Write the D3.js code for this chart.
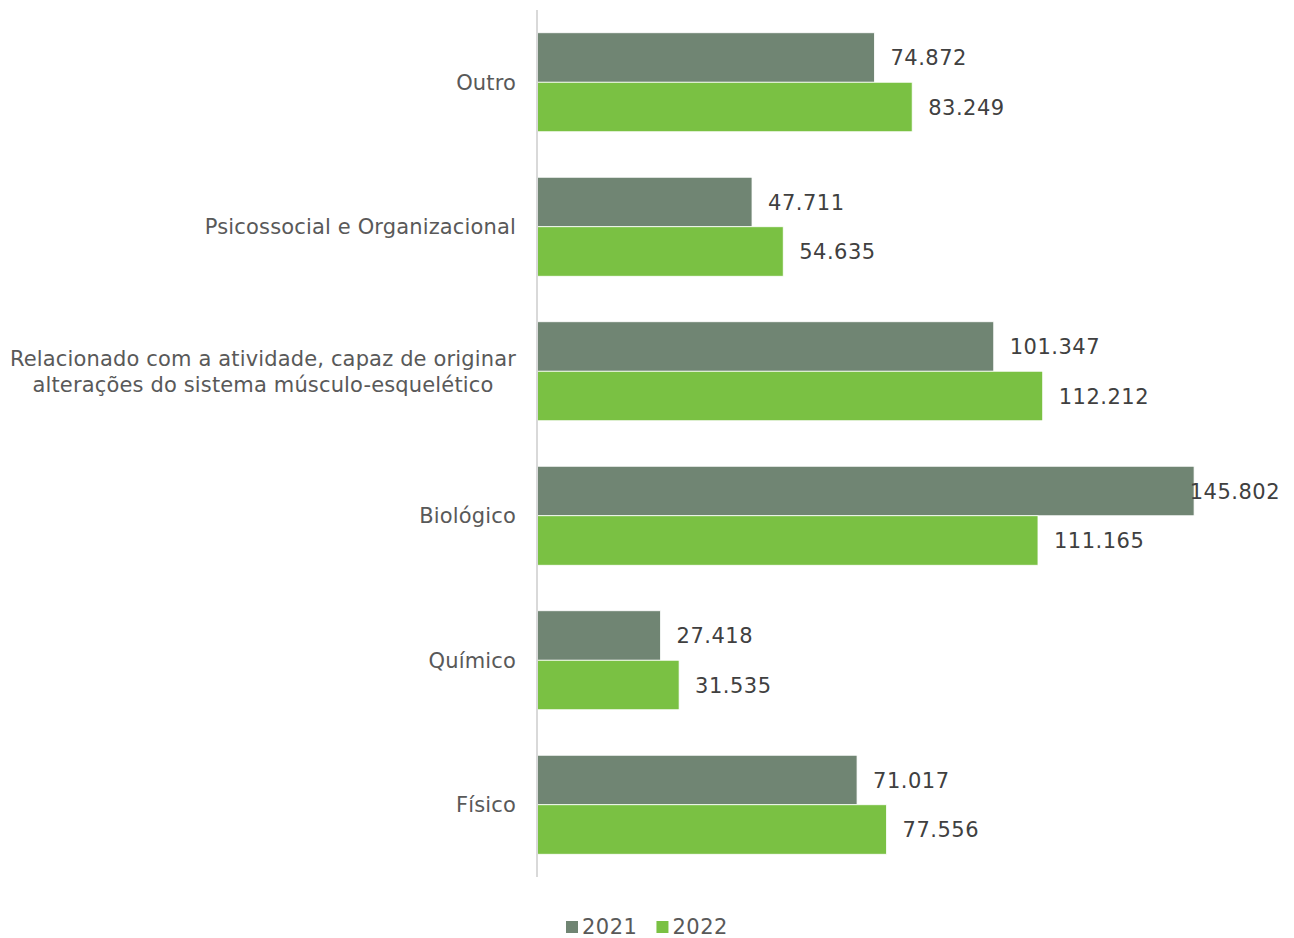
<!DOCTYPE html>
<html>
<head>
<meta charset="utf-8">
<script src="https://cdn.jsdelivr.net/npm/d3@7"></script>
<style>
  html, body { margin: 0; padding: 0; background: #ffffff; }
  svg { display: block; font-family: Verdana, "DejaVu Sans", sans-serif; }
</style>
</head>
<body>
<svg id="chart" width="1294" height="938"></svg>
<script>
// Categories from top to bottom; multi-line labels split with "\n"
const categories = [
  "Outro",
  "Psicossocial e Organizacional",
  "Relacionado com a atividade, capaz de originar\nalterações do sistema músculo-esquelético",
  "Biológico",
  "Químico",
  "Físico"
];
const seriesNames = ["2021", "2022"];
const values2021 = [74872, 47711, 101347, 145802, 27418, 71017];
const values2022 = [83249, 54635, 112212, 111165, 31535, 77556];
const seriesColors = ["#708573", "#7AC143"];

const series = [values2021, values2022];

const svg = d3.select("#chart");
const W = 1294;

const ptLocale = d3.formatLocale({ decimal: ",", thousands: ".", grouping: [3], currency: ["€", ""] });
const fmt = ptLocale.format(",d");

const x = d3.scaleLinear().domain([0, 150000]).range([537, 1213]);
const y = d3.scaleBand().domain(categories).range([10, 877]).paddingInner(0.315).paddingOuter(0.1575);
const ySub = d3.scaleBand().domain(seriesNames).range([0, y.bandwidth()]);

// Bars
const groups = svg.append("g").selectAll("g")
  .data(categories)
  .join("g")
  .attr("transform", d => `translate(0,${y(d)})`);

groups.selectAll("rect")
  .data((d, i) => seriesNames.map((s, j) => ({ s, j, v: series[j][i] })))
  .join("rect")
  .attr("x", x(0))
  .attr("y", d => ySub(d.s))
  .attr("width", d => x(d.v) - x(0))
  .attr("height", ySub.bandwidth())
  .attr("fill", d => seriesColors[d.j])
  .attr("stroke", "#ffffff")
  .attr("stroke-width", 0.8);

// Value labels
groups.selectAll("text.val")
  .data((d, i) => seriesNames.map((s, j) => ({ s, j, v: series[j][i] })))
  .join("text")
  .attr("class", "val")
  .attr("y", d => ySub(d.s) + ySub.bandwidth() / 2)
  .attr("dy", "0.36em")
  .attr("font-size", 21)
  .attr("letter-spacing", 0.5)
  .attr("fill", "#404040")
  .text(d => fmt(d.v))
  .each(function(d) {
    const w = this.getComputedTextLength();
    const px = Math.min(x(d.v) + 16, W - 14 - w);
    d3.select(this).attr("x", px);
  });

// Vertical axis line
svg.append("line")
  .attr("x1", x(0)).attr("x2", x(0))
  .attr("y1", 10).attr("y2", 877)
  .attr("stroke", "#d9d9d9")
  .attr("stroke-width", 2);

// Category labels (right-aligned block, lines centered within it)
const catLabels = svg.append("g");
categories.forEach(c => {
  const lines = c.split("\n");
  const lh = 26;
  const cy = y(c) + y.bandwidth() / 2;
  const t = catLabels.append("text")
    .attr("font-size", 21)
    .attr("letter-spacing", 0.15)
    .attr("fill", "#595959");
  lines.forEach((ln, k) => {
    t.append("tspan")
      .attr("y", cy + (k - (lines.length - 1) / 2) * lh)
      .attr("dy", "0.35em")
      .text(ln);
  });
  let maxW = 0;
  t.selectAll("tspan").each(function() { maxW = Math.max(maxW, this.getComputedTextLength()); });
  t.attr("text-anchor", "middle");
  t.selectAll("tspan").attr("x", 516 - maxW / 2);
});

// Legend
const legend = svg.append("g").attr("transform", "translate(566,927)");
let lx = 0;
seriesNames.forEach((s, j) => {
  legend.append("rect")
    .attr("x", lx).attr("y", -6)
    .attr("width", 12).attr("height", 12)
    .attr("fill", seriesColors[j]);
  const t = legend.append("text")
    .attr("x", lx + 16).attr("y", 0).attr("dy", "0.35em")
    .attr("font-size", 21).attr("letter-spacing", 0.5).attr("fill", "#595959")
    .text(s);
  lx += 16 + t.node().getComputedTextLength() + 19;
});
</script>
</body>
</html>
